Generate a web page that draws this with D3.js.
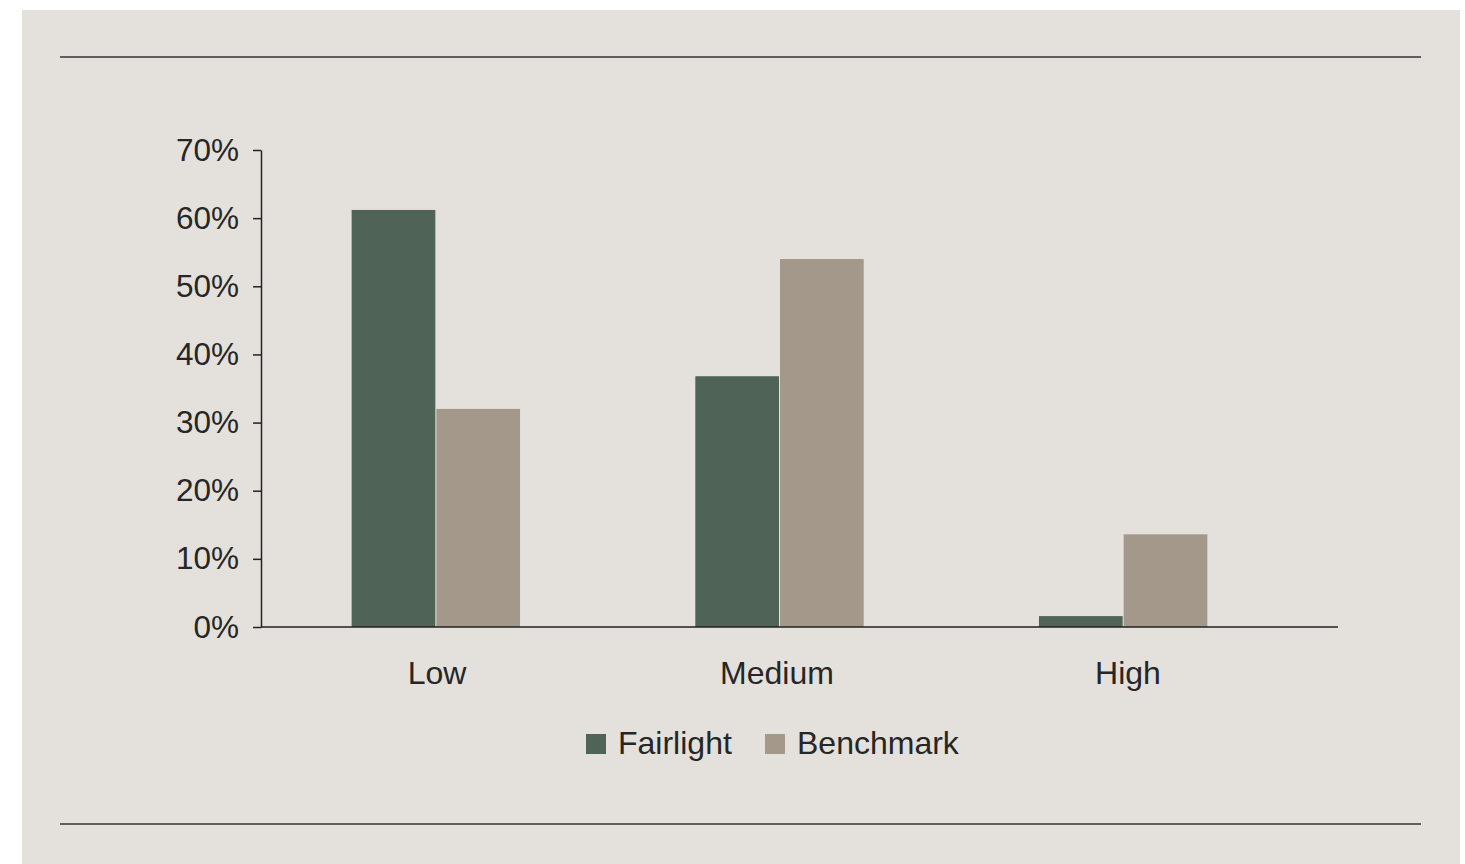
<!DOCTYPE html>
<html>
<head>
<meta charset="utf-8">
<script src="https://cdn.jsdelivr.net/npm/d3@7"></script>
<style>
  body { margin: 0; background: #ffffff; }
  text { font-family: "Liberation Sans", Arial, sans-serif; fill: #262626; }
</style>
</head>
<body>
<div id="chart"></div>
<script>
// data
const categories = ["Low", "Medium", "High"];
const seriesNames = ["Fairlight", "Benchmark"];
const fairlight = [61.2, 36.8, 1.6];
const benchmark = [32.0, 54.0, 13.6];
const yTicks = [0, 10, 20, 30, 40, 50, 60, 70];

const colors = {Fairlight: "#4f6457", Benchmark: "#a4988b"};

const W = 1465, H = 864;

const svg = d3.select("#chart")
  .append("svg")
    .attr("width", W)
    .attr("height", H);

// beige panel
svg.append("rect")
    .attr("x", 22).attr("y", 10)
    .attr("width", 1438).attr("height", 854)
    .attr("fill", "#e4e0dc");

// top and bottom rules
[57, 824].forEach(function(yy) {
  svg.append("line")
      .attr("x1", 60).attr("x2", 1421)
      .attr("y1", yy).attr("y2", yy)
      .attr("stroke", "#333")
      .attr("stroke-width", 1.5);
});

// scales
const x0 = d3.scaleBand()
    .domain(categories)
    .range([264, 1295])
    .paddingInner(0.51)
    .paddingOuter(0.255);

const x1 = d3.scaleBand()
    .domain(seriesNames)
    .range([0, x0.bandwidth()])
    .paddingInner(0.012);

const y = d3.scaleLinear()
    .domain([0, 70])
    .range([627, 150]);

const rows = categories.map(function(c, i) {
  return {cat: c, values: [
    {name: "Fairlight", v: fairlight[i]},
    {name: "Benchmark", v: benchmark[i]}
  ]};
});

// bars
svg.append("g")
  .selectAll("g")
  .data(rows)
  .join("g")
    .attr("transform", function(d) { return "translate(" + x0(d.cat) + ",0)"; })
  .selectAll("rect")
  .data(function(d) { return d.values; })
  .join("rect")
    .attr("x", function(d) { return x1(d.name); })
    .attr("y", function(d) { return y(d.v); })
    .attr("width", x1.bandwidth())
    .attr("height", function(d) { return y(0) - y(d.v); })
    .attr("fill", function(d) { return colors[d.name]; });

// y axis
const yAxis = svg.append("g")
    .attr("transform", "translate(261,0)")
    .call(d3.axisLeft(y)
      .tickValues(yTicks)
      .tickFormat(function(d) { return d + "%"; })
      .tickSize(8)
      .tickPadding(14)
      .tickSizeOuter(0));
yAxis.select(".domain").attr("stroke", "#222").attr("stroke-width", 1.5);
yAxis.selectAll(".tick line").attr("stroke", "#222").attr("stroke-width", 1.5);
yAxis.selectAll(".tick text")
    .attr("font-size", 31.5)
    .attr("fill", "#262626")
    .style("font-family", "'Liberation Sans', Arial, sans-serif");

// x axis line
svg.append("line")
    .attr("x1", 261).attr("x2", 1338)
    .attr("y1", y(0)).attr("y2", y(0))
    .attr("stroke", "#222")
    .attr("stroke-width", 1.5);

// category labels
const labelX = [437, 777, 1128];
svg.append("g")
  .selectAll("text")
  .data(categories)
  .join("text")
    .attr("x", function(d, i) { return labelX[i]; })
    .attr("y", 684)
    .attr("text-anchor", "middle")
    .attr("font-size", 32)
    .text(function(d) { return d; });

// legend
const legendX = [586, 765];
const legend = svg.append("g")
  .selectAll("g")
  .data(seriesNames)
  .join("g")
    .attr("transform", function(d, i) { return "translate(" + legendX[i] + ",734)"; });
legend.append("rect")
    .attr("width", 20).attr("height", 20)
    .attr("fill", function(d) { return colors[d]; });
legend.append("text")
    .attr("x", 32)
    .attr("y", 20)
    .attr("font-size", 32)
    .text(function(d) { return d; });
</script>
</body>
</html>
